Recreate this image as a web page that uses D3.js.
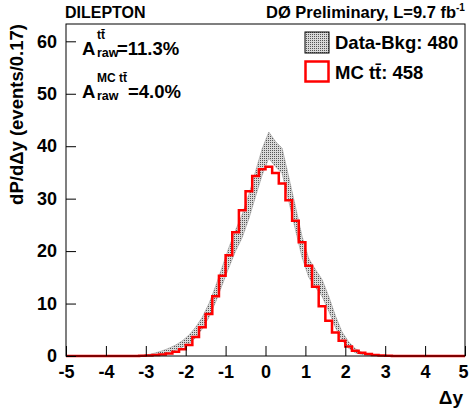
<!DOCTYPE html>
<html>
<head>
<meta charset="utf-8">
<script src="https://cdn.jsdelivr.net/npm/d3@7"></script>
<style>
    body { margin: 0; background: #fff; }
    svg { display: block; font-family: "Liberation Sans", Arial, sans-serif; font-weight: bold; }
</style>
</head>
<body>
<div id="chart"></div>
<script>
// 数据
const xTicks = [-5, -4, -3, -2, -1, 0, 1, 2, 3, 4, 5];
const yTicks = [0, 10, 20, 30, 40, 50, 60];
const binEdges = d3.range(61).map(k => -5 + k / 6);

// MC tt̄ 直方图 (60 bins)
const mcVals = [
    0, 0, 0, 0, 0, 0, 0, 0, 0, 0,
    0, 0.05, 0.1, 0.2, 0.3, 0.5, 0.8, 1.3, 2.1, 3.6,
    5.5, 8.0, 11.4, 15.3, 19.2, 23.6, 27.8, 31.4, 34.3, 35.6,
    36.1, 34.9, 32.9, 29.7, 25.8, 21.7, 17.2, 13.2, 9.5, 6.7,
    4.5, 2.9, 1.8, 1.0, 0.6, 0.4, 0.2, 0.1, 0.05, 0,
    0, 0, 0, 0, 0, 0, 0, 0, 0, 0
];

// Data-Bkg 中心值与误差带
const dataVals = [
    0, 0, 0, 0, 0, 0, 0, 0, 0, 0,
    0, 0.1, 0.2, 0.4, 0.7, 1.1, 1.6, 2.3, 3.2, 4.5,
    6.3, 8.7, 11.8, 15.3, 18.8, 22.0, 24.8, 28.5, 32.8, 37.0,
    40.2, 38.5, 37.2, 31.8, 26.3, 20.8, 16.8, 14.8, 13.0, 10.0,
    6.6, 3.8, 2.1, 1.0, 0.5, 0.2, 0.1, 0, 0, 0,
    0, 0, 0, 0, 0, 0, 0, 0, 0, 0
];
const dataErr = [
    0, 0, 0, 0, 0, 0, 0, 0, 0, 0,
    0, 0.05, 0.1, 0.2, 0.3, 0.4, 0.5, 0.6, 0.8, 1.0,
    1.1, 1.3, 1.5, 1.7, 1.9, 2.0, 2.2, 2.3, 2.4, 2.5,
    2.5, 2.4, 2.4, 2.3, 2.2, 2.0, 1.8, 1.7, 1.6, 1.4,
    1.1, 0.8, 0.6, 0.4, 0.2, 0.1, 0.05, 0, 0, 0,
    0, 0, 0, 0, 0, 0, 0, 0, 0, 0
];

const W = 469, H = 410;
const margin = { top: 24, right: 4, bottom: 54, left: 66 };

const svg = d3.select("#chart")
    .append("svg")
    .attr("width", W)
    .attr("height", H);

// 点状填充图案
const defs = svg.append("defs");
const pat = defs.append("pattern")
    .attr("id", "dots")
    .attr("patternUnits", "userSpaceOnUse")
    .attr("width", 2)
    .attr("height", 2);
pat.append("rect").attr("width", 2).attr("height", 2).attr("fill", "#d9d9d9");
pat.append("rect").attr("width", 1).attr("height", 1).attr("fill", "#555");

const x = d3.scaleLinear().domain([-5, 5]).range([margin.left, W - margin.right]);
const y = d3.scaleLinear().domain([0, 63.3]).range([H - margin.bottom, margin.top]);

// Data-Bkg 误差带
const centers = binEdges.slice(0, 60).map(e => e + 1 / 12);
const band = d3.area()
    .x((d, i) => x(centers[i]))
    .y0((d, i) => y(Math.max(0, d - dataErr[i])))
    .y1((d, i) => y(d + dataErr[i]));

svg.append("path")
    .datum(dataVals)
    .attr("d", band)
    .attr("fill", "url(#dots)")
    .attr("stroke", "#999")
    .attr("stroke-width", 0.6);

// MC 直方图
const stepPts = mcVals.map((v, i) => [binEdges[i], v]);
stepPts.push([binEdges[60], mcVals[59]]);
const step = d3.line()
    .x(d => x(d[0]))
    .y(d => y(d[1]))
    .curve(d3.curveStepAfter);

svg.append("path")
    .datum(stepPts)
    .attr("d", step)
    .attr("fill", "none")
    .attr("stroke", "#ff0000")
    .attr("stroke-width", 2.5);

// X 轴
const xAxis = svg.append("g")
    .attr("transform", `translate(0,${H - margin.bottom})`);
xAxis.call(d3.axisBottom(x).tickValues(d3.range(-5, 5.01, 0.2)).tickSize(-5).tickFormat(""));
xAxis.call(d3.axisBottom(x).tickValues(xTicks).tickSize(-10).tickPadding(9).tickFormat(d => String(d)));
xAxis.selectAll(".domain").remove();
xAxis.selectAll("line").attr("stroke", "#000");
xAxis.selectAll("text")
    .attr("font-size", 18)
    .attr("font-family", "Liberation Sans, Arial, sans-serif")
    .attr("font-weight", "bold")
    .attr("fill", "#000")
    .attr("dx", d => (d === 5 ? -2 : 0));

// Y 轴
const yAxis = svg.append("g")
    .attr("transform", `translate(${margin.left},0)`);
yAxis.call(d3.axisLeft(y).tickValues(d3.range(0, 63, 2)).tickSize(-5).tickFormat(""));
yAxis.call(d3.axisLeft(y).tickValues(yTicks).tickSize(-10).tickPadding(9).tickFormat(d => String(d)));
yAxis.selectAll(".domain").remove();
yAxis.selectAll("line").attr("stroke", "#000");
yAxis.selectAll("text")
    .attr("font-size", 18)
    .attr("font-family", "Liberation Sans, Arial, sans-serif")
    .attr("font-weight", "bold")
    .attr("fill", "#000");

// 边框
svg.append("rect")
    .attr("x", margin.left)
    .attr("y", margin.top)
    .attr("width", W - margin.left - margin.right)
    .attr("height", H - margin.top - margin.bottom)
    .attr("fill", "none")
    .attr("stroke", "#000")
    .attr("stroke-width", 1);

// 轴标题
svg.append("text")
    .attr("transform", "rotate(-90)")
    .attr("x", -margin.top)
    .attr("y", 23)
    .attr("text-anchor", "end")
    .attr("font-size", 18.5)
    .text("dP/dΔy (events/0.17)");

svg.append("text")
    .attr("x", 463)
    .attr("y", 404)
    .attr("text-anchor", "end")
    .attr("font-size", 19)
    .text("Δy");

// 顶部标题
svg.append("text")
    .attr("x", 65)
    .attr("y", 18)
    .attr("font-size", 16)
    .text("DILEPTON");

svg.append("text")
    .attr("x", 456)
    .attr("y", 18)
    .attr("text-anchor", "end")
    .attr("font-size", 16.5)
    .text("DØ Preliminary, L=9.7 fb");
svg.append("text")
    .attr("x", 456)
    .attr("y", 11)
    .attr("font-size", 10)
    .text("-1");

// 不对称性文本
function asym(yBase, sup, val, valX) {
    svg.append("text").attr("x", 82).attr("y", yBase).attr("font-size", 18.5).text("A");
    svg.append("text").attr("x", 97).attr("y", yBase - 16).attr("font-size", 12).text(sup);
    svg.append("text").attr("x", 97).attr("y", yBase + 2).attr("font-size", 12.5).text("raw");
    svg.append("text").attr("x", valX).attr("y", yBase).attr("font-size", 18.5).text(val);
}
asym(55, "tt\u0304", "=11.3%", 117);
asym(98, "MC tt\u0304", "=4.0%", 128);

// 图例
const legend = svg.append("g").attr("class", "legend");
legend.append("rect")
    .attr("x", 305).attr("y", 32).attr("width", 24).attr("height", 21)
    .attr("fill", "url(#dots)").attr("stroke", "#000").attr("stroke-width", 1);
legend.append("text")
    .attr("x", 335).attr("y", 49).attr("font-size", 18.5)
    .text("Data-Bkg: 480");
legend.append("rect")
    .attr("x", 305.5).attr("y", 61.5).attr("width", 23).attr("height", 20)
    .attr("fill", "none").attr("stroke", "#ff0000").attr("stroke-width", 2.5);
legend.append("text")
    .attr("x", 335).attr("y", 79).attr("font-size", 18.5)
    .text("MC tt\u0304: 458");
</script>
</body>
</html>
